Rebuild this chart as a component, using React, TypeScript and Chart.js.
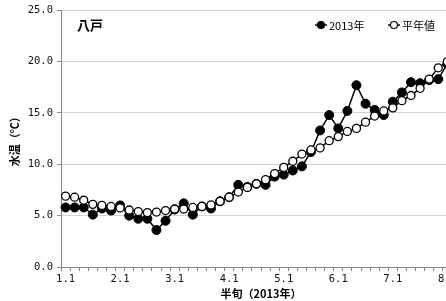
import React, { useEffect, useRef } from 'react';
import { Chart, registerables } from 'chart.js';

Chart.register(...registerables);

// Half-month periods (半旬): month.period, 6 per month
const MONTHS = [1, 2, 3, 4, 5, 6, 7, 8];
const PERIODS = [1, 2, 3, 4, 5, 6];
const categories: string[] = [];
MONTHS.forEach((m) => PERIODS.forEach((p) => categories.push(`${m}.${p}`)));
const categoriesShown = categories.slice(0, 44);

const water2013 = [
  5.8, 5.8, 5.8, 5.1, 5.7, 5.5, 6.0, 5.0, 4.7, 4.7, 3.6, 4.5, 5.6, 6.2, 5.1, 5.9,
  5.7, 6.4, 6.8, 8.0, 7.8, 8.1, 8.0, 8.8, 9.0, 9.4, 9.8, 11.2, 13.3, 14.8, 13.5,
  15.2, 17.7, 15.9, 15.3, 14.8, 16.1, 17.0, 18.0, 17.9, 18.2, 18.3, 19.8,
];
const waterNormal = [
  6.9, 6.8, 6.5, 6.1, 6.0, 5.9, 5.75, 5.55, 5.4, 5.3, 5.35, 5.5, 5.65, 5.65, 5.8,
  5.9, 6.05, 6.4, 6.8, 7.3, 7.75, 8.1, 8.5, 9.1, 9.7, 10.3, 11.0, 11.4, 11.6, 12.3,
  12.7, 13.2, 13.5, 14.1, 14.7, 15.2, 15.5, 16.2, 16.7, 17.4, 18.3, 19.4, 20.0,
];

const Y_MIN = 0;
const Y_MAX = 25;
const Y_STEP = 5;

const STATION = '八戸';
const SERIES_NAMES = ['2013年', '平年値'];
const X_TITLE = '半旬（2013年）';
const Y_TITLE = '水温（℃）';

const CJK = '"Noto Sans CJK JP", "Noto Sans", sans-serif';
const MONO = '"DejaVu Sans Mono", monospace';

const overlayPlugin = {
  id: 'overlayLegend',
  afterDraw(chart: any) {
    const ctx = chart.ctx as CanvasRenderingContext2D;
    ctx.save();
    ctx.textBaseline = 'middle';
    ctx.textAlign = 'left';
    ctx.fillStyle = '#000';
    ctx.font = `bold 13px ${CJK}`;
    ctx.fillText(STATION, 77, 25);

    const items = [
      { x: 315, filled: true, label: SERIES_NAMES[0] },
      { x: 388, filled: false, label: SERIES_NAMES[1] },
    ];
    const y = 25;
    items.forEach((it) => {
      ctx.strokeStyle = '#000';
      ctx.lineWidth = 1.5;
      ctx.beginPath();
      ctx.moveTo(it.x, y);
      ctx.lineTo(it.x + 12, y);
      ctx.stroke();
      ctx.beginPath();
      ctx.arc(it.x + 6, y, 3.5, 0, Math.PI * 2);
      ctx.fillStyle = it.filled ? '#000' : '#fff';
      ctx.fill();
      ctx.lineWidth = 1.2;
      ctx.stroke();
      ctx.fillStyle = '#000';
      ctx.font = `11px ${CJK}`;
      ctx.fillText(it.label, it.x + 14, y + 0.5);
    });
    ctx.restore();
  },
};

export default function App() {
  const ref = useRef<HTMLCanvasElement | null>(null);

  useEffect(() => {
    if (!ref.current) return;
    const chart = new Chart(ref.current, {
      type: 'line',
      data: {
        labels: categoriesShown,
        datasets: [
          {
            label: SERIES_NAMES[0],
            data: water2013,
            borderColor: '#000',
            backgroundColor: '#000',
            borderWidth: 1.5,
            pointRadius: 4.5,
            pointBackgroundColor: '#000',
            pointBorderColor: '#000',
            pointBorderWidth: 1,
            tension: 0,
            order: 1,
          },
          {
            label: SERIES_NAMES[1],
            data: waterNormal,
            borderColor: '#000',
            backgroundColor: '#fff',
            borderWidth: 1.5,
            pointRadius: 4,
            pointBackgroundColor: '#fff',
            pointBorderColor: '#000',
            pointBorderWidth: 1.3,
            tension: 0,
            order: 0,
          },
        ],
      },
      options: {
        animation: false,
        responsive: false,
        maintainAspectRatio: false,
        layout: { padding: { top: 8, left: 0, right: 9, bottom: 0 } },
        plugins: {
          legend: { display: false },
          tooltip: { enabled: false },
          title: { display: false },
        },
        scales: {
          x: {
            type: 'category',
            offset: true,
            grid: {
              display: true,
              drawOnChartArea: false,
              drawTicks: true,
              tickLength: 4,
              offset: true,
              tickColor: '#888',
            },
            border: { display: true, color: '#888', width: 1 },
            ticks: {
              autoSkip: false,
              maxRotation: 0,
              minRotation: 0,
              padding: 2,
              color: '#111',
              font: { family: MONO, size: 10.5 },
              callback: (_v: any, i: number) => (i % 6 === 0 ? categoriesShown[i] : ''),
            },
            title: {
              display: true,
              text: X_TITLE,
              color: '#000',
              font: { family: CJK, size: 11, weight: 'bold' },
              padding: { top: 0, bottom: 1 },
            },
            afterFit: (s: any) => {
              s.height = 34;
            },
          },
          y: {
            min: Y_MIN,
            max: Y_MAX,
            grid: {
              color: '#d4d4d4',
              tickLength: 4,
              tickColor: '#888',
            },
            border: { display: true, color: '#888', width: 1 },
            ticks: {
              stepSize: Y_STEP,
              padding: 4,
              color: '#111',
              font: { family: MONO, size: 10.5 },
              callback: (v: any) => Number(v).toFixed(1),
            },
            title: {
              display: true,
              text: Y_TITLE,
              color: '#000',
              font: { family: CJK, size: 11, weight: 'bold' },
              padding: { top: 8, bottom: 0 },
            },
            afterFit: (s: any) => {
              s.width = 61;
            },
          },
        },
      },
      plugins: [overlayPlugin],
    });
    return () => chart.destroy();
  }, []);

  return (
    <div
      style={{
        position: 'fixed',
        left: 0,
        top: 0,
        width: 446,
        height: 301,
        overflow: 'hidden',
        background: '#fff',
      }}
    >
      <canvas ref={ref} width={470} height={301} style={{ width: 470, height: 301, display: 'block' }} />
    </div>
  );
}
